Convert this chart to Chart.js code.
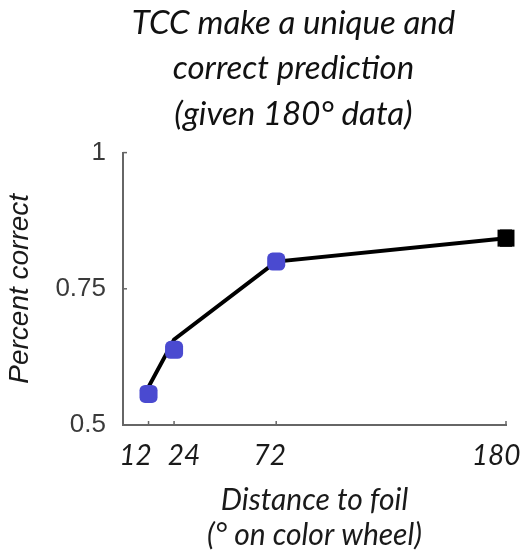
<!DOCTYPE html>
<html>
<head>
<meta charset="utf-8">
<script src="https://cdn.jsdelivr.net/npm/chart.js@4"></script>
<style>
  body { margin: 0; background: #fff; }
</style>
</head>
<body>
<canvas id="myChart" width="530" height="559"></canvas>
<script>
'use strict';

// distance to foil (deg on colour wheel)
let xTicks = [12, 24, 72, 180];
let xTickLabels = ['12', '24', '72', '180'];
let yTicks = [0.5, 0.75, 1];
let yTickLabels = ['0.5', '0.75', '1'];

// TCC prediction (line)
let modelX = [12, 24, 72, 180];
let modelY = [0.57, 0.657, 0.80, 0.843];

// observed data (blue points)
let dataX = [12, 24, 72];
let dataY = [0.557, 0.638, 0.80];

// the 180 deg data the model was fit to
let fitX = [180];
let fitY = [0.843];
let fitErr = [0.013];

let titleLines = ['TCC make a unique and', 'correct prediction', '(given 180\u00B0 data)'];
let xTitleLines = ['Distance to foil', '(\u00B0 on color wheel)'];

// the original labels sit a little off their ticks (in spaces, - = left)
let labelNudge = [-4, 3, -2, -3];

function toPoints(xs, ys) {
  let pts = [];
  for (let i = 0; i < xs.length; i++) {
    pts.push({ x: xs[i], y: ys[i] });
  }
  return pts;
}

function nudge(text, n) {
  let pad = ' '.repeat(Math.abs(n));
  return n < 0 ? text + pad : pad + text;
}

// tick marks pointing into the plot, and the error bar at 180
let extras = {
  id: 'extras',
  afterLayout(chart) {
    if (chart.titleBlock) {
      chart.titleBlock.left -= 42;
    }
  },
  beforeDatasetsDraw(chart) {
    let ctx = chart.ctx;
    let xs = chart.scales.x;
    let ys = chart.scales.y;
    ctx.save();
    ctx.strokeStyle = '#000';
    ctx.lineWidth = 3;
    for (let i = 0; i < fitX.length; i++) {
      let px = xs.getPixelForValue(fitX[i]);
      let top = ys.getPixelForValue(fitY[i] + fitErr[i]);
      let bot = ys.getPixelForValue(fitY[i] - fitErr[i]);
      ctx.beginPath();
      ctx.moveTo(px, top); ctx.lineTo(px, bot);
      ctx.moveTo(px - 6, top); ctx.lineTo(px + 6, top);
      ctx.moveTo(px - 6, bot); ctx.lineTo(px + 6, bot);
      ctx.stroke();
    }
    ctx.restore();
  },
  afterDatasetsDraw(chart) {
    let ctx = chart.ctx;
    let xs = chart.scales.x;
    let ys = chart.scales.y;
    ctx.save();
    ctx.strokeStyle = '#666';
    ctx.lineWidth = 1.5;
    for (let i = 0; i < xTicks.length; i++) {
      let px = xs.getPixelForValue(xTicks[i]);
      ctx.beginPath();
      ctx.moveTo(px, ys.bottom);
      ctx.lineTo(px, ys.bottom - 4);
      ctx.stroke();
    }
    for (let i = 0; i < yTicks.length; i++) {
      let py = ys.getPixelForValue(yTicks[i]);
      ctx.beginPath();
      ctx.moveTo(xs.left, py);
      ctx.lineTo(xs.left + 4, py);
      ctx.stroke();
    }
    ctx.restore();
  }
};

let ctx = document.getElementById('myChart').getContext('2d');

new Chart(ctx, {
  type: 'scatter',
  data: {
    datasets: [
      {
        label: 'data',
        data: toPoints(dataX, dataY),
        pointStyle: 'rectRounded',
        pointRadius: 10.5,
        backgroundColor: '#4a4ad0',
        borderColor: '#4a4ad0',
        borderWidth: 0,
        showLine: false,
        clip: false,
        order: 0
      },
      {
        label: 'fit',
        data: toPoints(fitX, fitY),
        pointStyle: 'rect',
        pointRadius: 12,
        backgroundColor: '#000',
        borderColor: '#000',
        borderWidth: 0,
        showLine: false,
        clip: false,
        order: 0
      },
      {
        label: 'model',
        data: toPoints(modelX, modelY),
        showLine: true,
        borderColor: '#000',
        borderWidth: 4,
        pointRadius: 0,
        clip: false,
        order: 1
      }
    ]
  },
  options: {
    responsive: false,
    animation: false,
    layout: { padding: { left: 0, right: 24, top: 0, bottom: 6 } },
    plugins: {
      legend: { display: false },
      tooltip: { enabled: false },
      title: {
        display: true,
        text: titleLines,
        fullSize: false,
        color: '#111',
        font: { family: 'Lato', style: 'italic', weight: 'normal', size: 33, lineHeight: 1.39 },
        padding: { top: 0, bottom: 15 }
      }
    },
    scales: {
      x: {
        type: 'linear',
        min: 0,
        max: 180,
        afterBuildTicks(scale) {
          scale.ticks = xTicks.map(v => ({ value: v }));
        },
        afterFit(scale) {
          scale.height = 128;
          scale.paddingLeft = 0;
          scale.paddingRight = 0;
        },
        grid: { display: true, drawOnChartArea: false, drawTicks: false },
        border: { display: true, color: '#666', width: 2 },
        ticks: {
          autoSkip: false,
          maxRotation: 0,
          padding: 14,
          color: '#1a1a1a',
          font: { family: 'Lato', style: 'italic', size: 28 },
          callback: function (value, index) {
            return nudge(xTickLabels[index], labelNudge[index]);
          }
        },
        title: {
          display: true,
          text: xTitleLines,
          color: '#1a1a1a',
          font: { family: 'Lato', style: 'italic', size: 30, lineHeight: 1.17 },
          padding: { top: 0, bottom: 0 }
        }
      },
      y: {
        min: 0.5,
        max: 1,
        afterBuildTicks(scale) {
          scale.ticks = yTicks.map(v => ({ value: v }));
        },
        afterFit(scale) {
          scale.width = 123;
        },
        grid: { display: true, drawOnChartArea: false, drawTicks: false },
        border: { display: true, color: '#666', width: 2 },
        ticks: {
          padding: 17,
          color: '#3a3a3a',
          font: { family: 'Liberation Sans', size: 26 },
          callback: function (value, index) {
            return yTickLabels[index];
          }
        },
        title: {
          display: true,
          text: 'Percent correct',
          color: '#1a1a1a',
          font: { family: 'Liberation Sans', style: 'italic', size: 28, lineHeight: 1.2 },
          padding: { top: 3, bottom: 0 }
        }
      }
    }
  },
  plugins: [extras]
});
</script>
</body>
</html>
